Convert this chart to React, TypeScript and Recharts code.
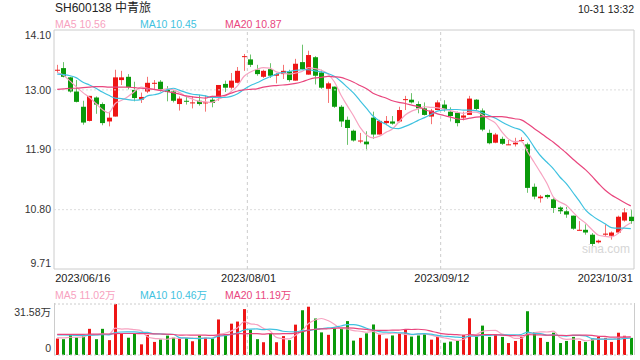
import React from 'react';
import { ComposedChart, Bar, Line, XAxis, YAxis, ReferenceLine, ReferenceArea, Cell } from 'recharts';

// trading days 2023/06/16 .. 2023/10/31
const dates = [
  '2023/06/16', '2023/06/19', '2023/06/20', '2023/06/21', '2023/06/26', '2023/06/27', '2023/06/28', '2023/06/29', '2023/06/30',
  '2023/07/03', '2023/07/04', '2023/07/05', '2023/07/06', '2023/07/07', '2023/07/10', '2023/07/11', '2023/07/12', '2023/07/13', '2023/07/14',
  '2023/07/17', '2023/07/18', '2023/07/19', '2023/07/20', '2023/07/21', '2023/07/24', '2023/07/25', '2023/07/26', '2023/07/27', '2023/07/28', '2023/07/31',
  '2023/08/01', '2023/08/02', '2023/08/03', '2023/08/04', '2023/08/07', '2023/08/08', '2023/08/09', '2023/08/10', '2023/08/11',
  '2023/08/14', '2023/08/15', '2023/08/16', '2023/08/17', '2023/08/18', '2023/08/21', '2023/08/22', '2023/08/23', '2023/08/24', '2023/08/25',
  '2023/08/28', '2023/08/29', '2023/08/30', '2023/08/31',
  '2023/09/01', '2023/09/04', '2023/09/05', '2023/09/06', '2023/09/07', '2023/09/08', '2023/09/11', '2023/09/12', '2023/09/13', '2023/09/14', '2023/09/15',
  '2023/09/18', '2023/09/19', '2023/09/20', '2023/09/21', '2023/09/22', '2023/09/25', '2023/09/26', '2023/09/27', '2023/09/28',
  '2023/10/09', '2023/10/10', '2023/10/11', '2023/10/12', '2023/10/13', '2023/10/16', '2023/10/17', '2023/10/18', '2023/10/19', '2023/10/20',
  '2023/10/23', '2023/10/24', '2023/10/25', '2023/10/26', '2023/10/27', '2023/10/30', '2023/10/31',
];

const opens = [
  13.36, 13.40, 13.23, 12.97, 12.69, 12.43, 12.86, 12.74, 12.42, 12.51,
  13.18, 13.24, 13.00, 12.82, 12.97, 13.12, 13.15, 13.00, 12.97, 12.74,
  12.80, 12.76, 12.80, 12.76, 12.82, 12.85, 13.11, 13.04, 13.13, 13.61,
  13.56, 13.37, 13.24, 13.38, 13.26, 13.29, 13.34, 13.17, 13.51, 13.28,
  13.60, 13.32, 13.02, 13.06, 12.69, 12.45, 12.25, 12.06, 12.05, 12.49,
  12.18, 12.39, 12.42, 12.42, 12.82, 12.82, 12.74, 12.66, 12.51, 12.63,
  12.73, 12.60, 12.58, 12.49, 12.54, 12.82, 12.62, 12.21, 12.03, 12.10,
  12.00, 12.00, 12.07, 12.00, 11.22, 11.01, 11.07, 10.99, 10.84, 10.77,
  10.69, 10.43, 10.43, 10.34, 10.20, 10.34, 10.32, 10.38, 10.60, 10.67,
];
const highs = [
  13.46, 13.51, 13.24, 13.18, 12.80, 12.89, 12.88, 12.77, 12.60, 13.37,
  13.35, 13.29, 13.15, 12.95, 13.24, 13.18, 13.18, 13.07, 13.00, 12.88,
  12.89, 12.88, 12.91, 12.90, 12.89, 13.09, 13.17, 13.31, 13.42, 13.66,
  13.65, 13.46, 13.37, 13.49, 13.31, 13.46, 13.37, 13.57, 13.83, 13.72,
  13.62, 13.37, 13.15, 13.06, 12.72, 12.51, 12.27, 12.21, 12.24, 12.60,
  12.45, 12.52, 12.52, 12.69, 12.89, 12.94, 12.79, 12.77, 12.65, 12.81,
  12.81, 12.68, 12.60, 12.60, 12.89, 12.83, 12.66, 12.27, 12.21, 12.14,
  12.08, 12.12, 12.13, 12.03, 11.28, 11.07, 11.08, 11.01, 10.86, 10.85,
  10.69, 10.59, 10.53, 10.37, 10.25, 10.53, 10.40, 10.69, 10.83, 10.81,
];
const lows = [
  13.31, 13.23, 12.95, 12.77, 12.36, 12.42, 12.56, 12.35, 12.33, 12.51,
  13.09, 13.01, 12.79, 12.76, 12.94, 13.00, 12.97, 12.79, 12.77, 12.62,
  12.73, 12.66, 12.71, 12.60, 12.68, 12.80, 12.96, 13.00, 13.12, 13.35,
  13.42, 13.26, 13.22, 13.22, 13.12, 13.20, 13.15, 13.17, 13.37, 13.28,
  13.10, 13.02, 12.76, 12.67, 12.32, 11.99, 12.05, 12.02, 11.89, 12.10,
  12.18, 12.35, 12.36, 12.40, 12.63, 12.75, 12.57, 12.53, 12.37, 12.63,
  12.60, 12.42, 12.33, 12.44, 12.54, 12.63, 12.24, 12.00, 12.02, 11.99,
  11.99, 11.96, 12.04, 11.11, 10.99, 10.93, 11.00, 10.74, 10.72, 10.65,
  10.43, 10.42, 10.34, 10.13, 10.18, 10.31, 10.25, 10.36, 10.58, 10.54,
];
const closes = [
  13.37, 13.24, 12.97, 12.78, 12.40, 12.89, 12.73, 12.39, 12.49, 13.23,
  13.23, 13.05, 12.85, 12.87, 13.13, 13.13, 13.00, 12.96, 12.80, 12.84,
  12.79, 12.77, 12.74, 12.77, 12.76, 13.09, 13.04, 13.17, 13.35, 13.62,
  13.46, 13.29, 13.35, 13.26, 13.29, 13.35, 13.18, 13.48, 13.38, 13.64,
  13.26, 13.04, 13.12, 12.69, 12.42, 12.30, 12.07, 12.07, 12.00, 12.18,
  12.43, 12.43, 12.38, 12.63, 12.83, 12.77, 12.66, 12.54, 12.62, 12.77,
  12.65, 12.52, 12.39, 12.53, 12.84, 12.65, 12.27, 12.02, 12.18, 12.01,
  12.00, 12.03, 12.08, 11.20, 11.04, 11.04, 11.03, 10.83, 10.77, 10.71,
  10.45, 10.43, 10.38, 10.17, 10.23, 10.36, 10.38, 10.67, 10.75, 10.59,
];

const ma5 = [
  13.32, 13.27, 13.16, 13.05, 12.95, 12.86, 12.75, 12.64, 12.58, 12.75,
  12.81, 12.88, 12.97, 13.05, 13.03, 13.01, 13.00, 13.02, 13.00, 12.95,
  12.88, 12.83, 12.79, 12.78, 12.77, 12.83, 12.88, 12.97, 13.08, 13.25,
  13.33, 13.38, 13.41, 13.40, 13.33, 13.31, 13.29, 13.31, 13.34, 13.41,
  13.39, 13.36, 13.29, 13.15, 12.91, 12.71, 12.52, 12.31, 12.17, 12.12,
  12.15, 12.22, 12.28, 12.41, 12.54, 12.61, 12.65, 12.69, 12.68, 12.67,
  12.65, 12.62, 12.59, 12.57, 12.59, 12.59, 12.54, 12.46, 12.39, 12.23,
  12.10, 12.05, 12.06, 11.86, 11.67, 11.48, 11.28, 11.03, 10.94, 10.88,
  10.76, 10.64, 10.55, 10.43, 10.33, 10.31, 10.30, 10.36, 10.48, 10.56,
];
const ma10 = [
  13.29, 13.28, 13.26, 13.22, 13.14, 13.09, 13.03, 12.96, 12.90, 12.85,
  12.84, 12.82, 12.81, 12.82, 12.89, 12.91, 12.94, 13.00, 13.03, 12.99,
  12.95, 12.92, 12.91, 12.89, 12.86, 12.86, 12.86, 12.88, 12.93, 13.01,
  13.08, 13.13, 13.19, 13.24, 13.29, 13.32, 13.34, 13.36, 13.37, 13.37,
  13.35, 13.33, 13.30, 13.25, 13.16, 13.05, 12.94, 12.80, 12.66, 12.52,
  12.43, 12.37, 12.30, 12.29, 12.33, 12.38, 12.44, 12.49, 12.55, 12.61,
  12.63, 12.64, 12.64, 12.63, 12.63, 12.62, 12.58, 12.53, 12.48, 12.41,
  12.35, 12.30, 12.26, 12.13, 11.95, 11.79, 11.67, 11.55, 11.40, 11.28,
  11.12, 10.96, 10.79, 10.69, 10.61, 10.54, 10.47, 10.46, 10.46, 10.45,
];
const ma20 = [
  13.01, 13.02, 13.03, 13.03, 13.04, 13.05, 13.06, 13.06, 13.05, 13.05,
  13.05, 13.05, 13.04, 13.03, 13.02, 13.01, 12.99, 12.97, 12.95, 12.92,
  12.89, 12.87, 12.86, 12.85, 12.88, 12.88, 12.90, 12.94, 12.98, 13.00,
  13.01, 13.02, 13.05, 13.07, 13.08, 13.09, 13.10, 13.12, 13.15, 13.19,
  13.22, 13.23, 13.25, 13.24, 13.23, 13.19, 13.14, 13.08, 13.02, 12.94,
  12.89, 12.85, 12.80, 12.77, 12.75, 12.72, 12.69, 12.64, 12.60, 12.56,
  12.53, 12.50, 12.47, 12.46, 12.48, 12.50, 12.51, 12.51, 12.51, 12.51,
  12.49, 12.47, 12.45, 12.38, 12.29, 12.21, 12.12, 12.04, 11.94, 11.84,
  11.73, 11.63, 11.53, 11.41, 11.28, 11.16, 11.07, 11.00, 10.93, 10.87,
];

// volume in 万
const volumes = [
  10.2, 9.8, 13.0, 10.9, 12.4, 16.2, 9.8, 16.2, 9.2, 31.58,
  13.4, 10.7, 13.4, 6.6, 12.4, 8.1, 9.6, 12.0, 10.7, 10.7,
  10.7, 8.5, 12.0, 10.7, 10.2, 22.0, 12.4, 19.4, 20.7, 28.4,
  15.6, 9.8, 7.9, 13.4, 7.9, 11.7, 9.2, 18.8, 27.7, 29.9,
  22.6, 14.0, 12.5, 16.5, 16.5, 21.0, 8.9, 10.6, 13.4, 18.9,
  12.7, 10.2, 12.1, 13.4, 15.7, 11.4, 12.1, 12.9, 9.5, 11.2,
  7.6, 8.3, 8.7, 12.3, 22.7, 11.4, 18.2, 11.2, 12.7, 11.2,
  7.4, 8.7, 11.2, 27.1, 14.2, 10.6, 8.1, 13.8, 7.4, 8.7,
  11.2, 8.7, 8.1, 10.2, 11.2, 10.6, 8.1, 13.8, 11.9, 10.6,
];
const volMa5 = [
  10.8, 10.6, 11.0, 11.0, 11.26, 12.46, 12.46, 13.10, 12.76, 16.60,
  16.04, 16.22, 15.66, 15.14, 11.30, 10.24, 10.02, 9.74, 10.56, 10.22,
  10.74, 10.52, 10.52, 10.52, 10.42, 12.68, 13.46, 14.94, 16.94, 20.58,
  19.30, 18.78, 16.48, 15.02, 10.92, 10.14, 10.02, 12.20, 15.06, 19.46,
  21.64, 22.60, 21.34, 19.10, 16.42, 16.10, 15.08, 14.70, 14.08, 14.56,
  12.90, 13.16, 13.46, 13.46, 12.82, 12.56, 12.94, 13.10, 12.32, 11.42,
  10.66, 9.90, 9.06, 9.62, 11.92, 12.68, 14.66, 15.16, 15.24, 12.94,
  12.14, 10.24, 10.24, 13.12, 13.72, 14.36, 14.24, 14.76, 10.82, 9.72,
  9.84, 9.96, 8.82, 9.38, 9.88, 9.76, 9.64, 10.78, 11.12, 11.02,
];
const volMa10 = [
  12.5, 12.4, 12.3, 12.2, 12.1, 12.3, 12.4, 12.6, 12.5, 13.93,
  14.25, 14.34, 14.38, 13.95, 13.95, 13.14, 13.12, 12.70, 12.85, 10.76,
  10.49, 10.27, 10.13, 10.54, 10.32, 11.71, 11.99, 12.73, 13.73, 15.50,
  15.99, 16.12, 15.71, 15.98, 15.75, 14.72, 14.40, 14.34, 15.04, 15.19,
  15.89, 16.31, 16.77, 17.08, 17.94, 18.87, 18.84, 18.02, 16.59, 15.49,
  14.50, 14.12, 14.08, 13.77, 13.69, 12.73, 13.05, 13.28, 12.89, 12.12,
  11.61, 11.42, 11.08, 10.97, 11.67, 11.67, 12.28, 12.11, 12.43, 12.43,
  12.41, 12.45, 12.70, 14.18, 13.33, 13.25, 12.24, 12.50, 11.97, 11.72,
  12.10, 12.10, 11.79, 10.10, 9.80, 9.80, 9.80, 9.80, 10.25, 10.46,
];
const volMa20 = [
  12.8, 12.8, 12.8, 12.8, 12.8, 12.9, 12.9, 13.0, 13.0, 13.2,
  13.3, 13.3, 13.3, 13.2, 13.2, 13.1, 13.0, 12.9, 12.7, 12.35,
  12.37, 12.31, 12.26, 12.25, 12.14, 12.43, 12.56, 12.72, 13.29, 13.13,
  13.24, 13.20, 12.92, 13.26, 13.04, 13.22, 13.20, 13.54, 14.39, 15.35,
  15.94, 16.22, 16.24, 16.53, 16.85, 16.80, 16.62, 16.18, 15.82, 15.34,
  15.20, 15.22, 15.43, 15.43, 15.82, 15.80, 15.95, 15.65, 14.74, 13.81,
  13.06, 12.77, 12.58, 12.37, 12.68, 12.20, 12.67, 12.70, 12.66, 12.28,
  12.01, 11.94, 11.89, 12.58, 12.50, 12.46, 12.26, 12.31, 12.20, 12.08,
  12.26, 12.28, 12.25, 12.14, 11.57, 11.53, 11.02, 11.15, 11.11, 11.19,
];

const priceTicks = [9.71, 10.8, 11.9, 13.0, 14.1];
const volTicks = [0, 31.58];
const dateTicks = ['2023/06/16', '2023/08/01', '2023/09/12', '2023/10/31'];
const gridDates = ['2023/08/01', '2023/09/12'];

const UP = '#ee1515';
const DOWN = '#0a9a0a';
const C5 = '#f7a2c0';
const C10 = '#3fc2e0';
const C20 = '#e9467e';
const FONT = '"Liberation Sans", Arial, "Noto Sans CJK SC", sans-serif';

const rows = dates.map((d, i) => ({
  date: d,
  open: opens[i],
  high: highs[i],
  low: lows[i],
  close: closes[i],
  range: [lows[i], highs[i]],
  ma5: ma5[i],
  ma10: ma10[i],
  ma20: ma20[i],
  vol: volumes[i],
  vma5: volMa5[i],
  vma10: volMa10[i],
  vma20: volMa20[i],
}));

const Candle = (props: any) => {
  const { x, y, width, height, payload } = props;
  const { open, close, high, low } = payload;
  const color = close >= open ? UP : DOWN;
  const top = Math.min(y, y + height);
  const h = Math.abs(height);
  const unit = h / (high - low || 1);
  const py = (v: number) => top + (high - v) * unit;
  const c = Math.round(x + width / 2);
  const bTop = py(Math.max(open, close));
  const bH = Math.max(1, py(Math.min(open, close)) - bTop);
  return (
    <g>
      <line x1={c + 0.5} x2={c + 0.5} y1={top} y2={top + h} stroke={color} strokeOpacity={0.6} />
      <rect x={c - 2} y={bTop} width={5} height={bH} fill={color} />
    </g>
  );
};

const VolBar = (props: any) => {
  const { x, y, width, height, payload } = props;
  const color = payload.close >= payload.open ? UP : DOWN;
  const c = Math.round(x + width / 2);
  return <rect x={c - 1} y={y} width={3} height={height} fill={color} />;
};

const PriceTick = (props: any) => {
  const { y, payload } = props;
  const v = payload.value;
  const shift = v === 14.1 ? 5 : v === 9.71 ? -6 : 0;
  return (
    <text x={51} y={y + shift} dy="0.35em" textAnchor="end" fontSize={10.5} fill="#333" fontFamily={FONT}>
      {v.toFixed(2)}
    </text>
  );
};

const VolTick = (props: any) => {
  const { y, payload } = props;
  const v = payload.value;
  const shift = v === 0 ? -7 : 8;
  return (
    <text x={51} y={y + shift} dy="0.35em" textAnchor="end" fontSize={10.5} fill="#333" fontFamily={FONT}>
      {v === 0 ? '0' : v.toFixed(2) + '万'}
    </text>
  );
};

const DateTick = (props: any) => {
  const { x, payload } = props;
  const i = dateTicks.indexOf(payload.value);
  const anchor = i === 0 ? 'start' : i === dateTicks.length - 1 ? 'end' : 'middle';
  const dx = i === 0 ? -2 : i === dateTicks.length - 1 ? 2 : -2;
  return (
    <text x={x + dx} y={278} dy="0.35em" textAnchor={anchor} fontSize={11} fill="#222" fontFamily={FONT}>
      {payload.value}
    </text>
  );
};

const label = (left: number, top: number, color: string, text: string, size = 10.5) => (
  <div style={{ position: 'absolute', left, top, color, fontSize: size, lineHeight: '12px', whiteSpace: 'nowrap', fontFamily: FONT }}>
    {text}
  </div>
);

export default function App() {
  return (
    <div style={{ position: 'absolute', left: 0, top: 0, width: 640, height: 360, background: '#fff', overflow: 'hidden' }}>
      {label(55, 2, '#222', 'SH600138 中青旅', 12)}
      <div style={{ position: 'absolute', right: 6, top: 3, fontSize: 10.5, lineHeight: '12px', color: '#222', fontFamily: FONT }}>
        10-31 13:32
      </div>
      {label(55, 18, C5, 'MA5 10.56')}
      {label(140, 18, C10, 'MA10 10.45')}
      {label(225, 18, C20, 'MA20 10.87')}

      <div style={{ position: 'absolute', left: 0, top: 0 }}>
        <ComposedChart width={640} height={290} data={rows} margin={{ top: 30, right: 6, left: 0, bottom: 0 }} barCategoryGap={0}>
          <XAxis dataKey="date" ticks={dateTicks} interval={0} tick={<DateTick />} tickLine={false} axisLine={false} height={21} />
          <YAxis domain={[9.71, 14.1]} ticks={priceTicks} interval={0} tick={<PriceTick />} tickLine={false} axisLine={false} width={54} allowDataOverflow />
          <ReferenceArea y1={9.71} y2={14.1} fill="none" stroke="#cccccc" ifOverflow="visible" />
          {[10.8, 11.9, 13.0].map((v) => (
            <ReferenceLine key={v} y={v} stroke="#dddddd" strokeDasharray="2 2" />
          ))}
          {gridDates.map((d) => (
            <ReferenceLine key={d} x={d} position="start" stroke="#cccccc" strokeDasharray="3 3" />
          ))}
          <Bar dataKey="range" shape={<Candle />} isAnimationActive={false} />
          <Line type="monotone" dataKey="ma5" stroke={C5} strokeWidth={1.2} dot={false} isAnimationActive={false} />
          <Line type="monotone" dataKey="ma10" stroke={C10} strokeWidth={1.2} dot={false} isAnimationActive={false} />
          <Line type="monotone" dataKey="ma20" stroke={C20} strokeWidth={1.2} dot={false} isAnimationActive={false} />
        </ComposedChart>
      </div>

      <div style={{ position: 'absolute', left: 582, top: 243, fontSize: 12, lineHeight: '12px', color: '#d6d6d6', fontFamily: FONT }}>
        sina.com
      </div>

      {label(55, 289, C5, 'MA5 11.02万')}
      {label(140, 289, C10, 'MA10 10.46万')}
      {label(225, 289, C20, 'MA20 11.19万')}

      <div style={{ position: 'absolute', left: 0, top: 300 }}>
        <ComposedChart width={640} height={60} data={rows} margin={{ top: 4, right: 6, left: 0, bottom: 5 }} barCategoryGap={0}>
          <XAxis dataKey="date" hide />
          <YAxis domain={[0, 31.58]} ticks={volTicks} interval={0} tick={<VolTick />} tickLine={false} axisLine={false} width={54} allowDataOverflow />
          <ReferenceLine y={31.58} stroke="#cccccc" strokeDasharray="2 2" />
          <ReferenceLine y={0} stroke="#cccccc" strokeDasharray="2 2" />
          {gridDates.map((d) => (
            <ReferenceLine key={d} x={d} position="start" stroke="#cccccc" strokeDasharray="3 3" />
          ))}
          <Bar dataKey="vol" shape={<VolBar />} isAnimationActive={false}>
            {rows.map((r, i) => (
              <Cell key={i} fill={r.close >= r.open ? UP : DOWN} />
            ))}
          </Bar>
          <Line type="monotone" dataKey="vma5" stroke={C5} strokeWidth={1.2} dot={false} isAnimationActive={false} />
          <Line type="monotone" dataKey="vma10" stroke={C10} strokeWidth={1.2} dot={false} isAnimationActive={false} />
          <Line type="monotone" dataKey="vma20" stroke={C20} strokeWidth={1.2} dot={false} isAnimationActive={false} />
        </ComposedChart>
      </div>
      <div style={{ position: 'absolute', left: 54, top: 303, width: 579, height: 52, borderLeft: '1px solid #ccc', borderRight: '1px solid #ccc' }} />
    </div>
  );
}
